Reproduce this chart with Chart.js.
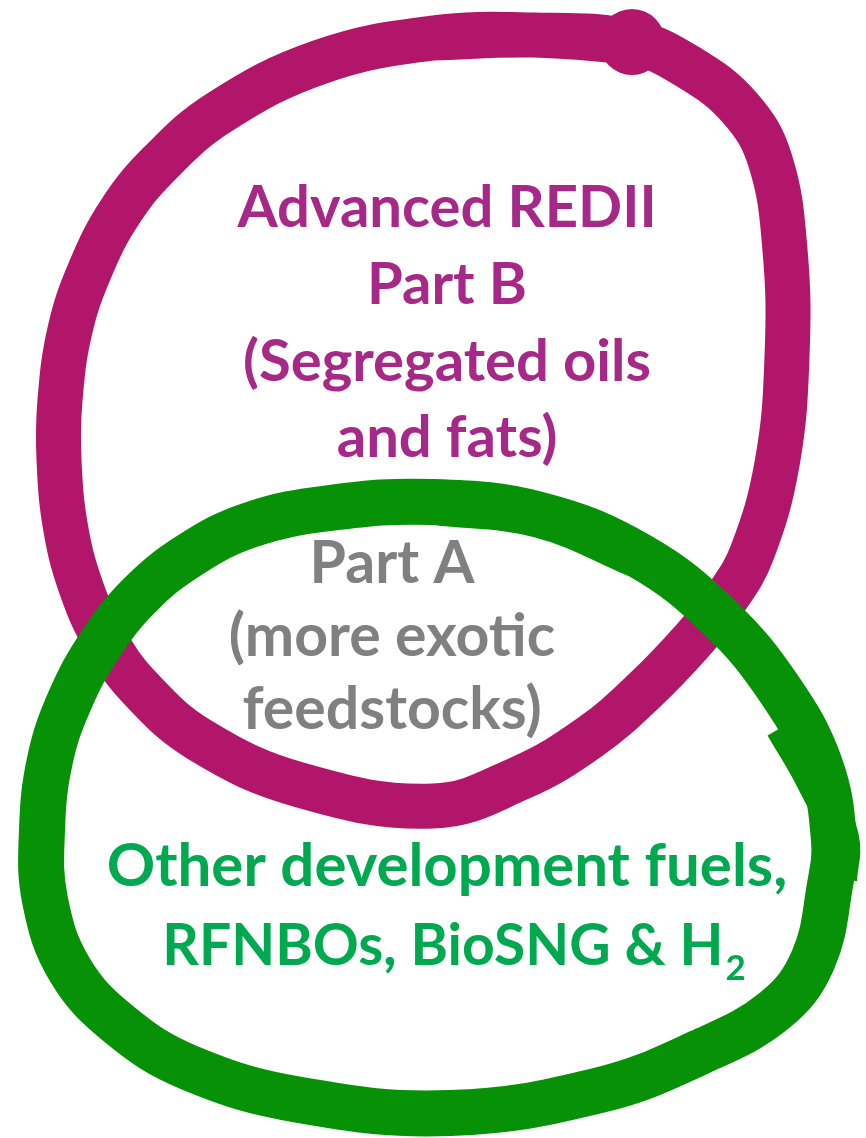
<!DOCTYPE html>
<html>
<head>
    <title>Advanced fuels overlap</title>
    <script src="https://cdn.jsdelivr.net/npm/chart.js"></script>
    <style>
        body { margin: 0; background: #fff; }
    </style>
</head>
<body>
    <canvas id="myChart" width="866" height="1138"></canvas>

    <script>
        // hand traced centre line of the two loops (page pixels, y downwards)
        const partBLoopX = [433, 533, 632, 690, 740, 770, 785, 787, 777, 752, 725, 693, 645, 590, 520, 433, 300, 200, 140, 105, 82, 66, 59, 60, 70, 90, 120, 160, 220, 320];
        const partBLoopY = [38, 35, 42, 68, 108, 160, 250, 357, 464, 553, 600, 640, 690, 737, 778, 806, 785, 740, 688, 640, 590, 530, 460, 400, 330, 270, 212, 163, 112, 62];
        const otherLoopX = [433, 540, 640, 720, 780, 820, 834, 830, 813, 775, 700, 600, 450, 300, 190, 120, 70, 45, 42, 50, 70, 100, 140, 190, 250, 330];
        const otherLoopY = [502, 515, 556, 618, 690, 765, 840, 885, 960, 1010, 1052, 1090, 1113, 1100, 1068, 1025, 970, 900, 830, 760, 700, 645, 595, 555, 525, 508];
        // second pass of the pen on the right hand side
        const otherOverlapX = [784, 815, 840, 838];
        const otherOverlapY = [726, 780, 838, 880];

        const partBLabels = ['Advanced REDII', 'Part B', '(Segregated oils', 'and fats)'];
        const partALabels = ['Part A', '(more exotic', 'feedstocks)'];
        const otherLabels = ['Other development fuels,', 'RFNBOs, BioSNG & H'];
        const otherSubscript = '2';

        function pts(xs, ys) {
            return xs.map((x, i) => ({ x: x, y: ys[i] }));
        }

        function loop(xs, ys) {
            const p = pts(xs, ys);
            // go round once more past the start so the join stays smooth
            return p.concat(p.slice(0, 3));
        }

        const textPlugin = {
            id: 'vennText',
            afterDatasetsDraw(chart) {
                const c = chart.ctx;
                c.save();
                c.textAlign = 'center';
                c.textBaseline = 'alphabetic';

                c.font = 'bold 58px Lato';
                c.fillStyle = '#A62987';
                [227, 304, 381, 457].forEach((y, i) => c.fillText(partBLabels[i], 447, y));

                c.font = 'bold 59px Lato';
                c.fillStyle = '#808080';
                [583, 656, 729].forEach((y, i) => c.fillText(partALabels[i], 392, y));

                c.font = 'bold 60px Lato';
                c.fillStyle = '#00A850';
                c.fillText(otherLabels[0], 447, 886);
                // second line carries a subscript, so lay it out by hand
                c.font = 'bold 57px Lato';
                const w = c.measureText(otherLabels[1]).width;
                c.font = 'bold 35px Lato';
                const ws = c.measureText(otherSubscript).width;
                const left = 454 - (w + ws + 2) / 2;
                c.textAlign = 'left';
                c.fillText(otherSubscript, left + w + 2, 980);
                c.font = 'bold 57px Lato';
                c.fillText(otherLabels[1], left, 965);
                c.restore();
            }
        };

        const ctx = document.getElementById('myChart').getContext('2d');
        const myChart = new Chart(ctx, {
            type: 'scatter',
            data: {
                datasets: [{
                    label: 'Other development fuels',
                    data: loop(otherLoopX, otherLoopY),
                    showLine: true,
                    borderColor: '#069106',
                    backgroundColor: '#069106',
                    borderWidth: 46,
                    tension: 0.4,
                    pointRadius: 0,
                    order: 0
                }, {
                    label: 'overlap',
                    data: pts(otherOverlapX, otherOverlapY),
                    showLine: true,
                    borderColor: '#069106',
                    borderWidth: 38,
                    borderCapStyle: 'butt',
                    tension: 0.4,
                    pointRadius: 0,
                    order: 0
                }, {
                    label: 'Advanced REDII Part B',
                    data: loop(partBLoopX, partBLoopY),
                    showLine: true,
                    borderColor: '#B2166B',
                    backgroundColor: '#B2166B',
                    borderWidth: 45,
                    tension: 0.4,
                    pointRadius: c => c.dataIndex === 2 ? 33 : 0,
                    pointBorderWidth: 0,
                    order: 1
                }]
            },
            options: {
                responsive: false,
                animation: false,
                layout: { padding: 0 },
                plugins: {
                    legend: { display: false },
                    tooltip: { enabled: false }
                },
                elements: {
                    line: { borderCapStyle: 'round', borderJoinStyle: 'round' }
                },
                scales: {
                    x: { display: false, min: 0, max: 866 },
                    y: { display: false, min: 0, max: 1138, reverse: true }
                }
            },
            plugins: [textPlugin]
        });
    </script>
</body>
</html>
